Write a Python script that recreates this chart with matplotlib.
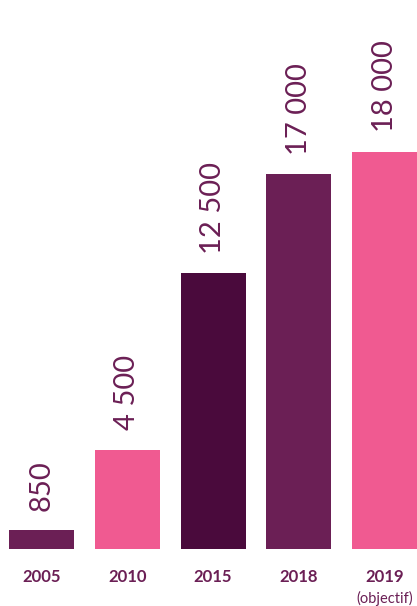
import matplotlib
matplotlib.use("Agg")
import matplotlib.pyplot as plt
import numpy as np

# data
years = ["2005", "2010", "2015", "2018", "2019"]
values = [850, 4500, 12500, 17000, 18000]
value_labels = ["850", "4 500", "12 500", "17 000", "18 000"]
notes = ["", "", "", "", "(objectif)"]

PURPLE = "#6b1f55"
PINK = "#f05a91"
DARK = "#4a0a3c"
bar_colors = [PURPLE, PINK, DARK, PURPLE, PINK]

plt.rcParams["font.family"] = ["Lato", "DejaVu Sans"]

fig = plt.figure(figsize=(4.17, 6.06), dpi=100)
ax = fig.add_axes([0, 57 / 606, 1, 549 / 606])

x = np.arange(len(years))
ax.bar(x, values, width=0.758, color=bar_colors)

for xi, v, lab in zip(x, values, value_labels):
    ax.annotate(lab, (xi, v), xytext=(0, 14), textcoords="offset points",
                rotation=90, ha="center", va="bottom", fontsize=21,
                fontweight="normal", color=PURPLE)

for xi, yr, note in zip(x, years, notes):
    ax.annotate(yr, (xi, 0), xytext=(0, -20), textcoords="offset points",
                ha="center", va="center", fontsize=12, fontweight="bold",
                color=PURPLE)
    if note:
        ax.annotate(note, (xi, 0), xytext=(0, -35.5), textcoords="offset points",
                    ha="center", va="center", fontsize=10.5, color=PURPLE)

ax.set_xlim(-0.484, 4.379)
ax.set_ylim(0, 549 / 0.02206)
ax.axis("off")

fig.savefig("out.png", dpi=100)
